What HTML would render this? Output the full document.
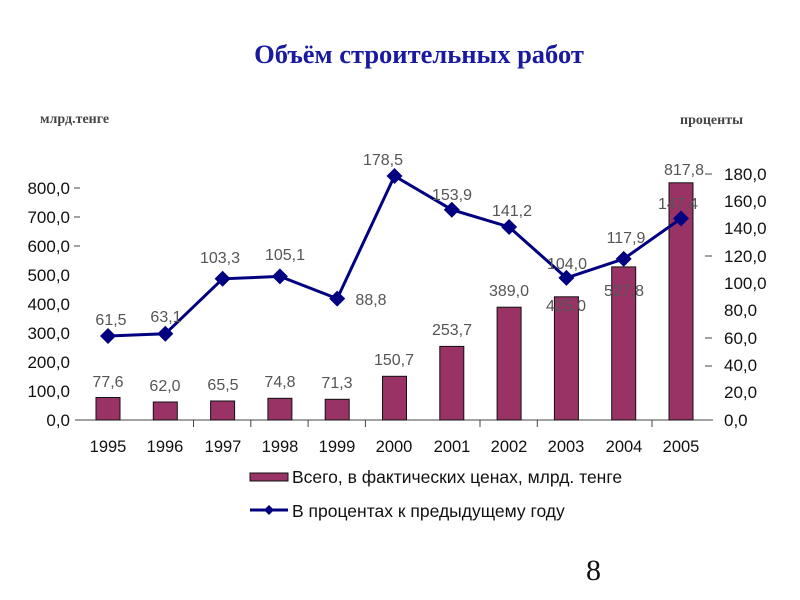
<!DOCTYPE html>
<html><head><meta charset="utf-8"><style>body{margin:0;background:#fff}svg{display:block}</style></head><body>
<svg width="800" height="600" xmlns="http://www.w3.org/2000/svg" font-family="Liberation Sans, DejaVu Sans, sans-serif">
<text x="419" y="63" text-anchor="middle" font-family="Liberation Serif, serif" font-weight="bold" font-size="26.5" fill="#1a1aa0">Объём строительных работ</text>
<text x="40" y="123" font-family="Liberation Serif, serif" font-weight="bold" font-size="14" fill="#444">млрд.тенге</text>
<text x="680" y="124" font-family="Liberation Serif, serif" font-weight="bold" font-size="14" fill="#444">проценты</text>
<g font-size="17" fill="#111" text-anchor="end">
<text x="70" y="426">0,0</text><text x="70" y="397">100,0</text><text x="70" y="368">200,0</text><text x="70" y="339">300,0</text><text x="70" y="310">400,0</text><text x="70" y="281">500,0</text><text x="70" y="252">600,0</text><text x="70" y="223">700,0</text><text x="70" y="194">800,0</text>
</g>
<g stroke="#444" stroke-width="1">
<line x1="74" y1="188" x2="80" y2="188"/><line x1="74" y1="217" x2="80" y2="217"/><line x1="74" y1="246" x2="80" y2="246"/>
<line x1="705" y1="174" x2="712" y2="174"/><line x1="705" y1="256" x2="712" y2="256"/><line x1="705" y1="338" x2="712" y2="338"/><line x1="705" y1="366" x2="712" y2="366"/>
<line x1="75" y1="420" x2="713" y2="420"/>
<line x1="250.8" y1="420" x2="250.8" y2="427"/><line x1="308.1" y1="420" x2="308.1" y2="427"/><line x1="365.4" y1="420" x2="365.4" y2="427"/><line x1="480" y1="420" x2="480" y2="427"/><line x1="537.3" y1="420" x2="537.3" y2="427"/><line x1="652" y1="420" x2="652" y2="427"/><line x1="193.5" y1="420" x2="193.5" y2="427"/>
</g>
<g font-size="17" fill="#111" text-anchor="start">
<text x="724" y="180">180,0</text><text x="724" y="207">160,0</text><text x="724" y="234">140,0</text><text x="724" y="262">120,0</text><text x="724" y="289">100,0</text><text x="724" y="316">80,0</text><text x="724" y="344">60,0</text><text x="724" y="371">40,0</text><text x="724" y="398">20,0</text><text x="724" y="426">0,0</text>
</g>
<g fill="#993366" stroke="#111" stroke-width="1">
<rect x="96" y="397.5" width="24" height="22.5"/><rect x="153.3" y="402" width="24" height="18"/><rect x="210.6" y="401" width="24" height="19"/><rect x="267.9" y="398.3" width="24" height="21.7"/><rect x="325.2" y="399.3" width="24" height="20.7"/><rect x="382.5" y="376.3" width="24" height="43.7"/><rect x="439.8" y="346.4" width="24" height="73.6"/><rect x="497.1" y="307.2" width="24" height="112.8"/><rect x="554.4" y="296.8" width="24" height="123.2"/><rect x="611.7" y="266.9" width="24" height="153.1"/><rect x="669" y="182.8" width="24" height="237.2"/>
</g>
<polyline fill="none" stroke="#000080" stroke-width="3" points="108,336 165.3,333.8 222.6,278.8 279.9,276.4 337.2,298.6 394.5,176 451.8,209.7 509.1,227 566.4,277.9 623.7,258.9 681,218.5"/>
<g fill="#000080">
<path d="M108,328l8,8-8,8-8-8z"/><path d="M165.3,325.8l8,8-8,8-8-8z"/><path d="M222.6,270.8l8,8-8,8-8-8z"/><path d="M279.9,268.4l8,8-8,8-8-8z"/><path d="M337.2,290.6l8,8-8,8-8-8z"/><path d="M394.5,168l8,8-8,8-8-8z"/><path d="M451.8,201.7l8,8-8,8-8-8z"/><path d="M509.1,219l8,8-8,8-8-8z"/><path d="M566.4,269.9l8,8-8,8-8-8z"/><path d="M623.7,250.9l8,8-8,8-8-8z"/><path d="M681,210.5l8,8-8,8-8-8z"/>
</g>
<g font-size="16" fill="#555" text-anchor="middle">
<text x="108" y="387">77,6</text><text x="165" y="391">62,0</text><text x="223" y="390">65,5</text><text x="280" y="387">74,8</text><text x="337" y="388">71,3</text><text x="394" y="365">150,7</text><text x="452" y="335">253,7</text><text x="509" y="296">389,0</text><text x="566" y="311">425,0</text><text x="624" y="296">527,8</text><text x="684" y="175">817,8</text>
<text x="111" y="325">61,5</text><text x="166" y="322">63,1</text><text x="220" y="263">103,3</text><text x="285" y="260">105,1</text><text x="371" y="305">88,8</text><text x="383" y="165">178,5</text><text x="452" y="200">153,9</text><text x="512" y="216">141,2</text><text x="567" y="269">104,0</text><text x="626" y="243">117,9</text><text x="678" y="209">147,4</text>
</g>
<g font-size="16.5" fill="#111" text-anchor="middle">
<text x="108" y="452">1995</text><text x="165" y="452">1996</text><text x="223" y="452">1997</text><text x="280" y="452">1998</text><text x="337" y="452">1999</text><text x="394" y="452">2000</text><text x="452" y="452">2001</text><text x="509" y="452">2002</text><text x="566" y="452">2003</text><text x="624" y="452">2004</text><text x="681" y="452">2005</text>
</g>
<rect x="250" y="473" width="38" height="8" fill="#993366" stroke="#111"/>
<text x="292" y="483" font-size="17.5" fill="#111">Всего, в фактических ценах, млрд. тенге</text>
<line x1="250" y1="510" x2="288" y2="510" stroke="#000080" stroke-width="3"/>
<path d="M269,505l5,5-5,5-5-5z" fill="#000080"/>
<text x="292" y="517" font-size="17.5" fill="#111">В процентах к предыдущему году</text>
<text x="586" y="580" font-family="Liberation Serif, serif" font-size="30" fill="#111">8</text>
</svg>
</body></html>
